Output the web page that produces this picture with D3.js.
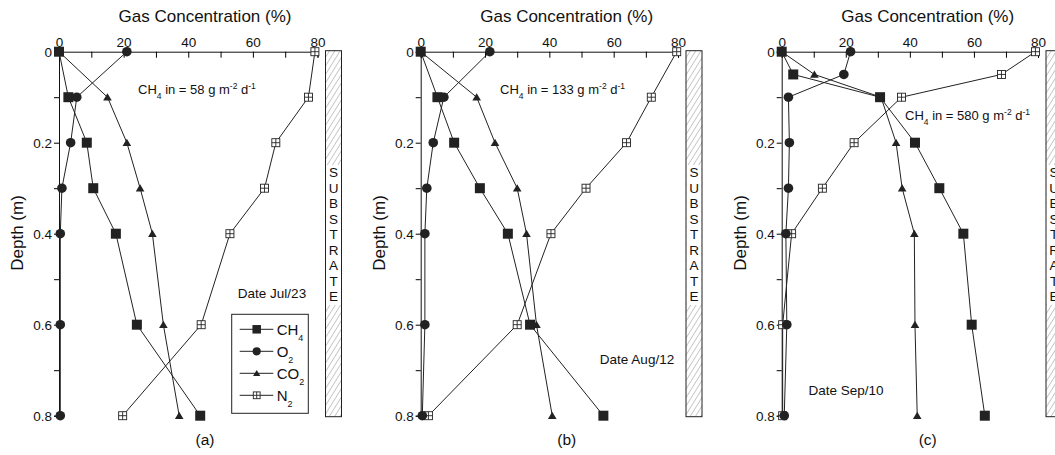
<!DOCTYPE html>
<html><head><meta charset="utf-8">
<script src="https://cdn.jsdelivr.net/npm/d3@7"></script>
<style>
body{margin:0;background:#fff;}
svg{display:block;font-family:"Liberation Sans",Arial,sans-serif;}
</style></head>
<body><svg id="c" width="1055" height="455"></svg>
<script>
const depths = [0, 0.1, 0.2, 0.3, 0.4, 0.6, 0.8];
const depthsC = [0, 0.05, 0.1, 0.2, 0.3, 0.4, 0.6, 0.8];

const ch4A = [0, 2.9, 8.6, 10.6, 17.6, 24.1, 43.7];
const o2A  = [21.0, 5.5, 3.6, 0.9, 0.4, 0.4, 0.4];
const co2A = [0, 15.0, 21.0, 25.1, 28.9, 32.3, 37.2];
const n2A  = [79.2, 77.2, 67.1, 63.6, 52.9, 44.0, 19.7];

const ch4B = [0, 5.2, 10.4, 18.4, 27.1, 34.0, 56.8];
const o2B  = [21.5, 7.2, 3.9, 1.9, 1.3, 1.3, 0.5];
const co2B = [0, 17.4, 23.1, 30.0, 32.9, 36.0, 40.9];
const n2B  = [79.6, 71.7, 64.0, 51.4, 40.5, 30.0, 2.4];

const ch4C = [0, 3.6, 30.7, 41.6, 49.2, 56.7, 59.3, 63.4];
const o2C  = [21.5, 19.4, 2.1, 2.4, 2.1, 1.3, 1.6, 0.8];
const co2C = [0, 10.2, 31.0, 35.7, 37.6, 41.4, 41.6, 42.3];
const n2C  = [79.2, 68.6, 37.4, 22.6, 12.7, 3.1, 0.3, 0.3];

const xTicksMajor = [0, 20, 40, 60, 80];
const xTicksMinor = [10, 30, 50, 70];
const yTicksMajor = [0, 0.2, 0.4, 0.6, 0.8];
const yTicksMinor = [0.1, 0.3, 0.5, 0.7];
const seriesNames = ["CH4", "O2", "CO2", "N2"];
const panelLabels = ["(a)", "(b)", "(c)"];
const fluxLabels = ["58", "133", "580"];
const dateLabels = ["Date Jul/23", "Date Aug/12", "Date Sep/10"];

const svg = d3.select("#c");
const defs = svg.append("defs");
const pat = defs.append("pattern").attr("id","hatch").attr("patternUnits","userSpaceOnUse")
  .attr("width",4.5).attr("height",4.5).attr("patternTransform","rotate(32)");
pat.append("line").attr("x1",0).attr("y1",0).attr("x2",0).attr("y2",4.5)
  .attr("stroke","#666").attr("stroke-width",0.7);

function marker(g, type, x, y, s) {
  s = s || 1;
  if (type === "CH4") {
    g.append("rect").attr("x", x-5*s).attr("y", y-5*s).attr("width",10*s).attr("height",10*s).attr("fill","#222");
  } else if (type === "O2") {
    g.append("circle").attr("cx",x).attr("cy",y).attr("r",4.8*s).attr("fill","#222");
  } else if (type === "CO2") {
    g.append("path").attr("d", `M${x-4.3*s},${y+3.3*s}L${x+4.3*s},${y+3.3*s}L${x},${y-4*s}Z`).attr("fill","#222");
  } else {
    const h = 4*s;
    g.append("rect").attr("x",x-h).attr("y",y-h).attr("width",2*h).attr("height",2*h)
      .attr("fill","#fff").attr("stroke","#222").attr("stroke-width",0.9);
    g.append("path").attr("d",`M${x-h},${y}H${x+h}M${x},${y-h}V${y+h}`).attr("stroke","#222").attr("stroke-width",0.9);
  }
}

const panels = [
  {x0:59, x80:317.5, dep:depths, data:[ch4A,o2A,co2A,n2A], flux:[138,94], date:[272,298], legend:true},
  {x0:420.7, x80:678, dep:depths, data:[ch4B,o2B,co2B,n2B], flux:[500,94], date:[637,364], legend:false},
  {x0:781.7, x80:1038, dep:depthsC, data:[ch4C,o2C,co2C,n2C], flux:[905,120], date:[846,395], legend:false}
];

const yTop = 51.7, yBot = 415.7;

panels.forEach((p, i) => {
  const x = d3.scaleLinear().domain([0,80]).range([p.x0, p.x80]);
  const y = d3.scaleLinear().domain([0,0.8]).range([yTop, yBot]);
  const g = svg.append("g");

  // substrate box
  const bx = p.x80 + 8, bw = 16;
  g.append("rect").attr("x",bx).attr("y",yTop-1).attr("width",bw).attr("height",yBot-yTop+2)
    .attr("fill","url(#hatch)").attr("stroke","none");
  g.append("rect").attr("x",bx+0.5).attr("y",165).attr("width",bw-1).attr("height",140).attr("fill","#fff");
  g.append("rect").attr("x",bx).attr("y",yTop-1).attr("width",bw).attr("height",yBot-yTop+2)
    .attr("fill","none").attr("stroke","#222").attr("stroke-width",1);
  "SUBSTRATE".split("").forEach((ch, k) => {
    g.append("text").attr("x", bx+bw/2).attr("y", 177 + k*15.5).attr("text-anchor","middle")
      .attr("font-size",13.5).attr("fill","#111").text(ch);
  });

  // axes
  g.append("g").attr("transform",`translate(0,${yTop})`)
    .call(d3.axisTop(x).tickValues(xTicksMajor).tickSize(-6).tickPadding(5).tickFormat(d3.format("d")))
    .call(a => a.selectAll("text").attr("font-size",13.5).attr("fill","#111").attr("font-family","Liberation Sans, Arial"))
    .call(a => a.select(".domain").attr("stroke","#111"));
  g.append("g").attr("transform",`translate(0,${yTop})`)
    .call(d3.axisTop(x).tickValues(xTicksMinor).tickSize(-6).tickFormat(""))
    .call(a => a.select(".domain").remove());
  g.append("g").attr("transform",`translate(${p.x0},0)`)
    .call(d3.axisLeft(y).tickValues(yTicksMajor).tickSize(5).tickPadding(2).tickFormat(d => d===0?"0":d3.format(".1f")(d)))
    .call(a => a.selectAll("text").attr("font-size",13.5).attr("fill","#111").attr("font-family","Liberation Sans, Arial"))
    .call(a => a.select(".domain").attr("stroke","#111"));
  g.append("g").attr("transform",`translate(${p.x0},0)`)
    .call(d3.axisLeft(y).tickValues(yTicksMinor).tickSize(5).tickFormat(""))
    .call(a => a.select(".domain").remove());

  // titles
  const cx = p.x0 + 146;
  g.append("text").attr("x",cx).attr("y",22).attr("text-anchor","middle").attr("font-size",17).attr("fill","#111").text("Gas Concentration (%)");
  g.append("text").attr("x",cx).attr("y",445).attr("text-anchor","middle").attr("font-size",15.5).attr("fill","#111").text(panelLabels[i]);
  g.append("text").attr("transform",`translate(${p.x0-36},233) rotate(-90)`).attr("text-anchor","middle")
    .attr("font-size",17).attr("fill","#111").text("Depth (m)");

  // series lines
  const line = d3.line().x(d => x(d[0])).y(d => y(d[1]));
  p.data.forEach((vals, s) => {
    const pts = vals.map((v, k) => [v, p.dep[k]]);
    g.append("path").attr("d", line(pts)).attr("fill","none").attr("stroke","#222").attr("stroke-width",1);
  });
  [3,2,0,1].forEach(s => {
    p.data[s].forEach((v, k) => marker(g, seriesNames[s], x(v), y(p.dep[k]), s===3?1:1));
  });

  // flux text
  const ft = g.append("text").attr("x",p.flux[0]).attr("y",p.flux[1]).attr("font-size",13).attr("fill","#111");
  ft.append("tspan").text("CH");
  ft.append("tspan").attr("font-size",8.5).attr("dy",5).text("4");
  ft.append("tspan").attr("dy",-5).text(` in = ${fluxLabels[i]} g m`);
  ft.append("tspan").attr("font-size",8.5).attr("dy",-5).text("-2");
  ft.append("tspan").attr("dy",5).text(" d");
  ft.append("tspan").attr("font-size",8.5).attr("dy",-5).text("-1");

  g.append("text").attr("x",p.date[0]).attr("y",p.date[1]).attr("text-anchor","middle").attr("font-size",13.5).attr("fill","#111").text(dateLabels[i]);

  if (p.legend) {
    const lx = p.x0 + 172.7, ly = 314.3;
    g.append("rect").attr("x",lx).attr("y",ly).attr("width",76.6).attr("height",99).attr("fill","#fff").attr("stroke","#222").attr("stroke-width",1);
    seriesNames.forEach((nm, s) => {
      const yy = ly + 15 + s*22;
      g.append("line").attr("x1",lx+8).attr("x2",lx+41.6).attr("y1",yy).attr("y2",yy).attr("stroke","#222").attr("stroke-width",1);
      marker(g, nm, lx+25, yy, 0.85);
      const t = g.append("text").attr("x",lx+45).attr("y",yy+5.5).attr("font-size",15).attr("fill","#111");
      t.append("tspan").text(nm.replace(/\d/,""));
      t.append("tspan").attr("font-size",9).attr("dy",6).text(nm.match(/\d/)[0]);
    });
  }
});
</script></body></html>
